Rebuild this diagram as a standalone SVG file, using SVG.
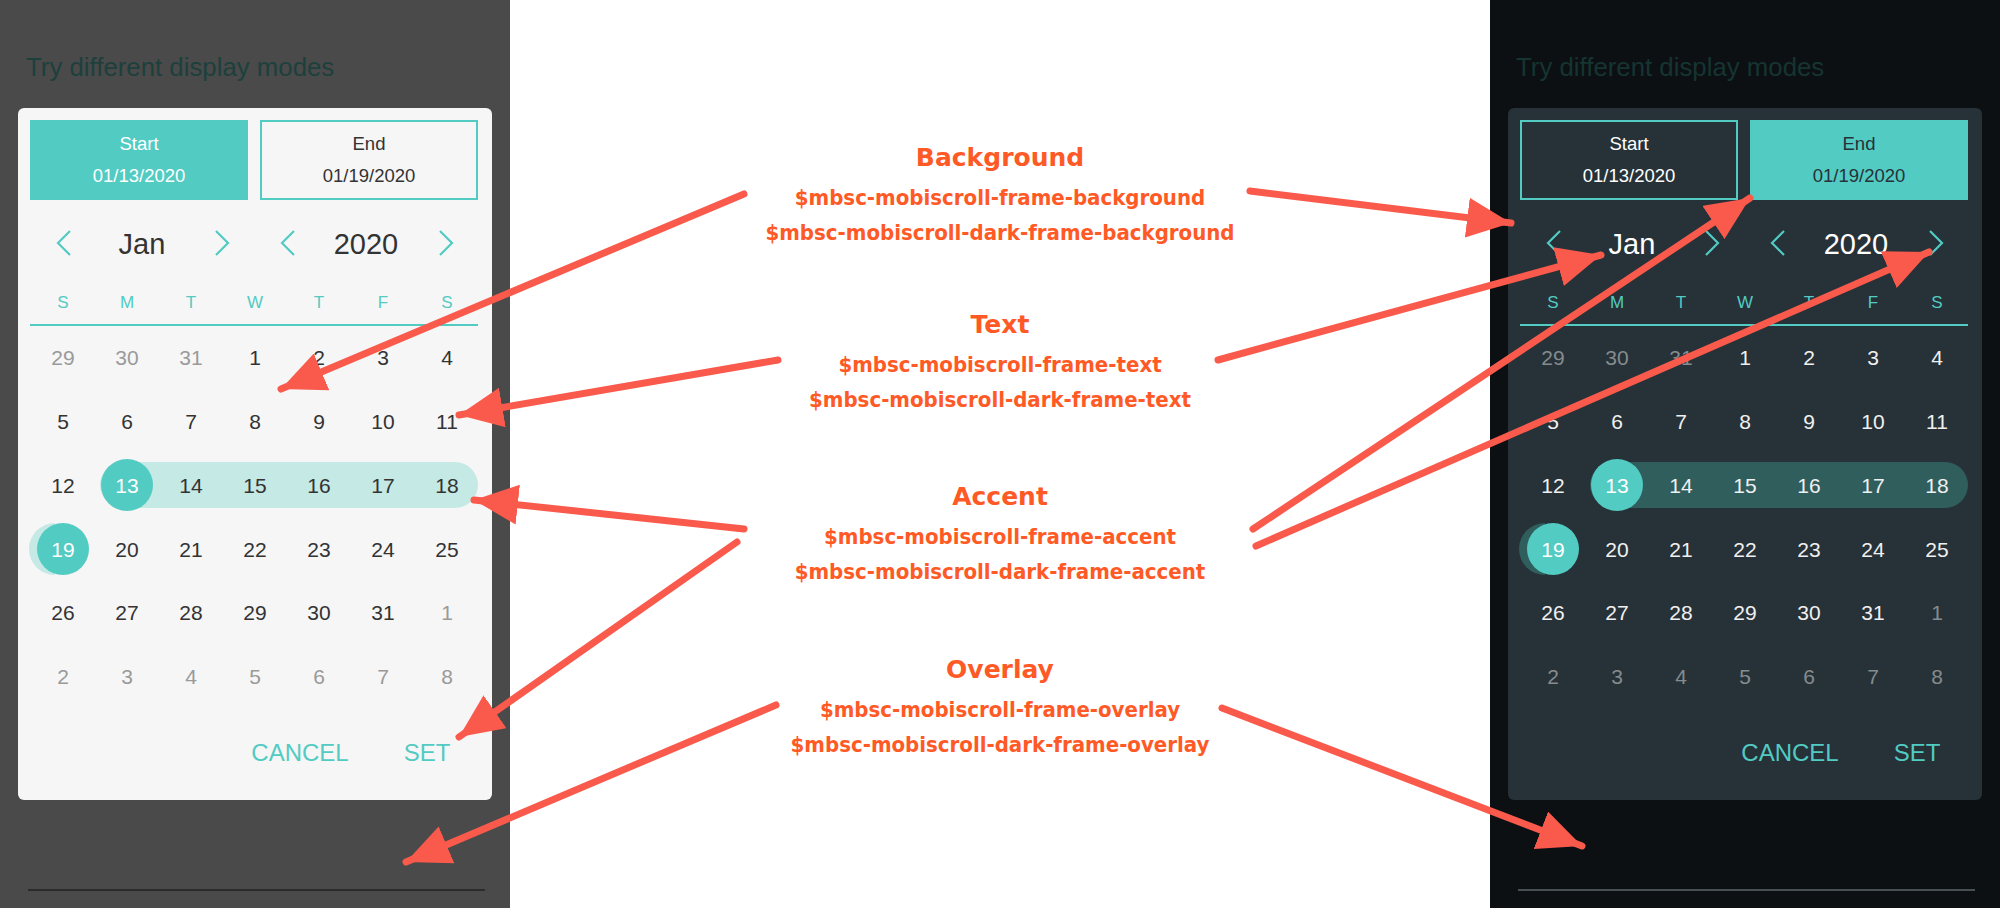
<svg xmlns="http://www.w3.org/2000/svg" width="2000" height="908" viewBox="0 0 2000 908">
<defs>
<style>
text{font-family:"Liberation Sans",Arial,sans-serif}
.ttl{font-size:25.8px}
.btn{font-size:18.5px;text-anchor:middle}
.nav{font-size:29px;text-anchor:middle}
.chev{fill:none;stroke:#52cbc3;stroke-width:2.2}
.wd{font-size:17px;fill:#52cbc3;text-anchor:middle}
.d{font-size:21px;text-anchor:middle}
.act{font-size:24px;fill:#52cbc3;text-anchor:middle}
.n{fill:var(--n)}
.o{fill:var(--o)}
.sel{fill:#fff}
.h{font-family:"DejaVu Sans",Verdana,sans-serif;font-weight:bold;font-size:25px;fill:#ff5a26;text-anchor:middle}
.s{font-family:"DejaVu Sans Condensed","DejaVu Sans",sans-serif;font-weight:bold;font-size:22px;fill:#ff5a26;text-anchor:middle}
.ar{stroke:#fa5a4c;stroke-width:7;stroke-linecap:round;fill:none;marker-end:url(#ah)}
</style>
<marker id="ah" markerUnits="userSpaceOnUse" markerWidth="50" markerHeight="40" refX="44" refY="20" orient="auto">
<path d="M0,0 L44,20 L0,40 Z" fill="#fa5a4c"/>
</marker>
<g id="chevs">
<polyline class="chev" points="70,231 58,243 70,255"/>
<polyline class="chev" points="216,231 228,243 216,255"/>
<polyline class="chev" points="294,231 282,243 294,255"/>
<polyline class="chev" points="440,231 452,243 440,255"/>
</g>
<g id="days">
<text class="wd" x="63" y="308">S</text><text class="wd" x="127" y="308">M</text><text class="wd" x="191" y="308">T</text><text class="wd" x="255" y="308">W</text><text class="wd" x="319" y="308">T</text><text class="wd" x="383" y="308">F</text><text class="wd" x="447" y="308">S</text>
<g class="d">
<text class="o" x="63" y="365">29</text><text class="o" x="127" y="365">30</text><text class="o" x="191" y="365">31</text><text class="n" x="255" y="365">1</text><text class="n" x="319" y="365">2</text><text class="n" x="383" y="365">3</text><text class="n" x="447" y="365">4</text>
<text class="n" x="63" y="429">5</text><text class="n" x="127" y="429">6</text><text class="n" x="191" y="429">7</text><text class="n" x="255" y="429">8</text><text class="n" x="319" y="429">9</text><text class="n" x="383" y="429">10</text><text class="n" x="447" y="429">11</text>
<text class="n" x="63" y="493">12</text><text class="n" x="191" y="493">14</text><text class="n" x="255" y="493">15</text><text class="n" x="319" y="493">16</text><text class="n" x="383" y="493">17</text><text class="n" x="447" y="493">18</text>
<text class="n" x="127" y="557">20</text><text class="n" x="191" y="557">21</text><text class="n" x="255" y="557">22</text><text class="n" x="319" y="557">23</text><text class="n" x="383" y="557">24</text><text class="n" x="447" y="557">25</text>
<text class="n" x="63" y="620">26</text><text class="n" x="127" y="620">27</text><text class="n" x="191" y="620">28</text><text class="n" x="255" y="620">29</text><text class="n" x="319" y="620">30</text><text class="n" x="383" y="620">31</text><text class="o" x="447" y="620">1</text>
<text class="o" x="63" y="684">2</text><text class="o" x="127" y="684">3</text><text class="o" x="191" y="684">4</text><text class="o" x="255" y="684">5</text><text class="o" x="319" y="684">6</text><text class="o" x="383" y="684">7</text><text class="o" x="447" y="684">8</text>
</g>
<circle cx="127" cy="485" r="26" fill="#52cbc3"/>
<text class="d sel" x="127" y="493">13</text>
<circle cx="63" cy="549" r="26" fill="#52cbc3"/>
<text class="d sel" x="63" y="557">19</text>
<text class="act" x="300" y="761">CANCEL</text><text class="act" x="427" y="761">SET</text>
</g>
</defs>
<rect width="2000" height="908" fill="#fff"/>
<g id="light-panel" style="--n:#333333;--o:#9a9a9a">
<rect x="0" y="0" width="510" height="908" fill="#4a4a4a"/>
<text class="ttl" x="26" y="76" fill="#1d403d">Try different display modes</text>
<rect x="18" y="108" width="474" height="692" rx="6" fill="#f6f6f6"/>
<rect x="30" y="120" width="218" height="80" fill="#52cbc3"/>
<text class="btn" x="139" y="150" fill="#fff">Start</text><text class="btn" x="139" y="182" fill="#fff">01/13/2020</text>
<rect x="261" y="121" width="216" height="78" fill="none" stroke="#52cbc3" stroke-width="2"/>
<text class="btn" x="369" y="150" fill="#333">End</text><text class="btn" x="369" y="182" fill="#333">01/19/2020</text>
<text class="nav" x="142" y="254" fill="#333">Jan</text><text class="nav" x="366" y="254" fill="#333">2020</text>
<use href="#chevs"/>
<line x1="30" y1="325" x2="478" y2="325" stroke="#52cbc3" stroke-width="2"/>
<rect x="100" y="462" width="378" height="46" rx="23" fill="#c5e9e4"/>
<path d="M55,523 A26,26 0 0 0 55,575 Z" fill="#c5e9e4"/>
<use href="#days"/>
<line x1="28" y1="890" x2="485" y2="890" stroke="#222" stroke-width="1.5"/>
</g>
<g id="dark-panel" style="--n:#f0f0f0;--o:#858b8e">
<rect x="1490" y="0" width="510" height="908" fill="#0c1013"/>
<g transform="translate(1490,0)">
<text class="ttl" x="26" y="76" fill="#163431">Try different display modes</text>
<rect x="18" y="108" width="474" height="692" rx="6" fill="#263238"/>
<rect x="31" y="121" width="216" height="78" fill="none" stroke="#52cbc3" stroke-width="2"/>
<text class="btn" x="139" y="150" fill="#fff">Start</text><text class="btn" x="139" y="182" fill="#fff">01/13/2020</text>
<rect x="260" y="120" width="218" height="80" fill="#52cbc3"/>
<text class="btn" x="369" y="150" fill="#263238">End</text><text class="btn" x="369" y="182" fill="#263238">01/19/2020</text>
<text class="nav" x="142" y="254" fill="#fff">Jan</text><text class="nav" x="366" y="254" fill="#fff">2020</text>
<use href="#chevs"/>
<line x1="30" y1="325" x2="478" y2="325" stroke="#52cbc3" stroke-width="2"/>
<rect x="100" y="462" width="378" height="46" rx="23" fill="#2f5e5d"/>
<path d="M55,523 A26,26 0 0 0 55,575 Z" fill="#2f5e5d"/>
<use href="#days"/>
<line x1="28" y1="890" x2="485" y2="890" stroke="#5a6468" stroke-width="1.5"/>
</g>
</g>
<g id="labels">
<text class="h" x="1000" y="166">Background</text>
<text class="s" x="1000" y="205">$mbsc-mobiscroll-frame-background</text>
<text class="s" x="1000" y="240">$mbsc-mobiscroll-dark-frame-background</text>
<text class="h" x="1000" y="333">Text</text>
<text class="s" x="1000" y="372">$mbsc-mobiscroll-frame-text</text>
<text class="s" x="1000" y="407">$mbsc-mobiscroll-dark-frame-text</text>
<text class="h" x="1000" y="505">Accent</text>
<text class="s" x="1000" y="544">$mbsc-mobiscroll-frame-accent</text>
<text class="s" x="1000" y="579">$mbsc-mobiscroll-dark-frame-accent</text>
<text class="h" x="1000" y="678">Overlay</text>
<text class="s" x="1000" y="717">$mbsc-mobiscroll-frame-overlay</text>
<text class="s" x="1000" y="752">$mbsc-mobiscroll-dark-frame-overlay</text>
</g>
<g id="connectors">
<line class="ar" x1="744" y1="194" x2="281" y2="389"/>
<line class="ar" x1="1250" y1="191" x2="1511" y2="223"/>
<line class="ar" x1="778" y1="360" x2="459" y2="415"/>
<line class="ar" x1="1218" y1="360" x2="1601" y2="255"/>
<line class="ar" x1="744" y1="529" x2="474" y2="500"/>
<line class="ar" x1="737" y1="542" x2="459" y2="737"/>
<line class="ar" x1="1253" y1="529" x2="1750" y2="198"/>
<line class="ar" x1="1256" y1="546" x2="1929" y2="252"/>
<line class="ar" x1="776" y1="705" x2="406" y2="862"/>
<line class="ar" x1="1222" y1="708" x2="1582" y2="846"/>
</g>
</svg>
